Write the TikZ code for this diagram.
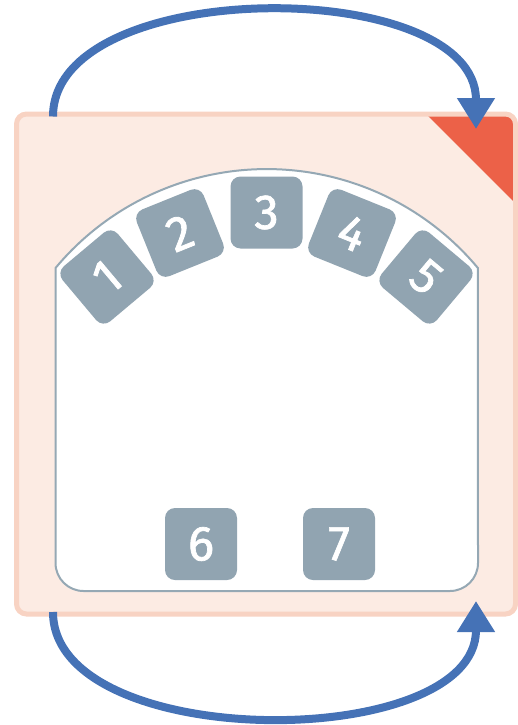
\documentclass[tikz,border=0pt]{standalone}
\usepackage{fontspec}
\setmainfont{Fira Sans}
\newfontfamily\digitfont{Fira Sans}[FakeBold=1.4]
\usetikzlibrary{arrows.meta}
\definecolor{bgfill}{HTML}{FCEBE3}
\definecolor{bgline}{HTML}{F8D3C3}
\definecolor{corner}{HTML}{EC6148}
\definecolor{slate}{HTML}{91A4B1}
\definecolor{slateline}{HTML}{95A8B4}
\definecolor{flow}{HTML}{4572B6}
\tikzset{
  numbox/.style={fill=slate, rounded corners=10pt, minimum width=72pt, minimum height=72pt,
    inner sep=0pt, text=white, font=\digitfont\fontsize{49}{49}\selectfont},
  flowarrow/.style={draw=flow, line width=8pt, -{Triangle[width=36pt,length=31pt]}},
}
\begin{document}
\begin{tikzpicture}[x=1pt,y=-1pt]
\useasboundingbox (0,0) rectangle (518,725);
% outer panel
\fill[bgfill, rounded corners=10pt] (16.5,114) rectangle (515.5,614);
\begin{scope}
  \clip[rounded corners=10pt] (16.5,114) rectangle (515.5,614);
  \fill[corner] (422,110) -- (520,110) -- (520,208) -- cycle;
\end{scope}
\draw[bgline, line width=5pt, rounded corners=10pt] (16.5,114) rectangle (515.5,614);
% inner area
\draw[slateline, line width=2pt, fill=white]
  (55.5,268) arc[start angle=219.8, end angle=320.2, radius=274.9]
  -- (478,563) arc[start angle=0, end angle=90, radius=28]
  -- (83.5,591) arc[start angle=90, end angle=180, radius=28] -- cycle;
% boxes
\node[numbox, rotate=40] (b1) at (107,277) {1};
\node[numbox, rotate=22] (b2) at (180,233) {2};
\node[numbox] (b3) at (266.5,212.5) {3};
\node[numbox, rotate=-22] (b4) at (352,233) {4};
\node[numbox, rotate=-40] (b5) at (426,277) {5};
\node[numbox] (b6) at (201,544) {6};
\node[numbox] (b7) at (339,544) {7};
% arrows
\coordinate (s1) at (53,116.5);
\coordinate (e1) at (476,129);
\coordinate (s2) at (53,612);
\coordinate (e2) at (476,601);
\draw[flowarrow] (s1) .. controls (53,-25) and (476,-25) .. (e1);
\draw[flowarrow] (s2) .. controls (53,753) and (476,753) .. (e2);
\end{tikzpicture}
\end{document}
